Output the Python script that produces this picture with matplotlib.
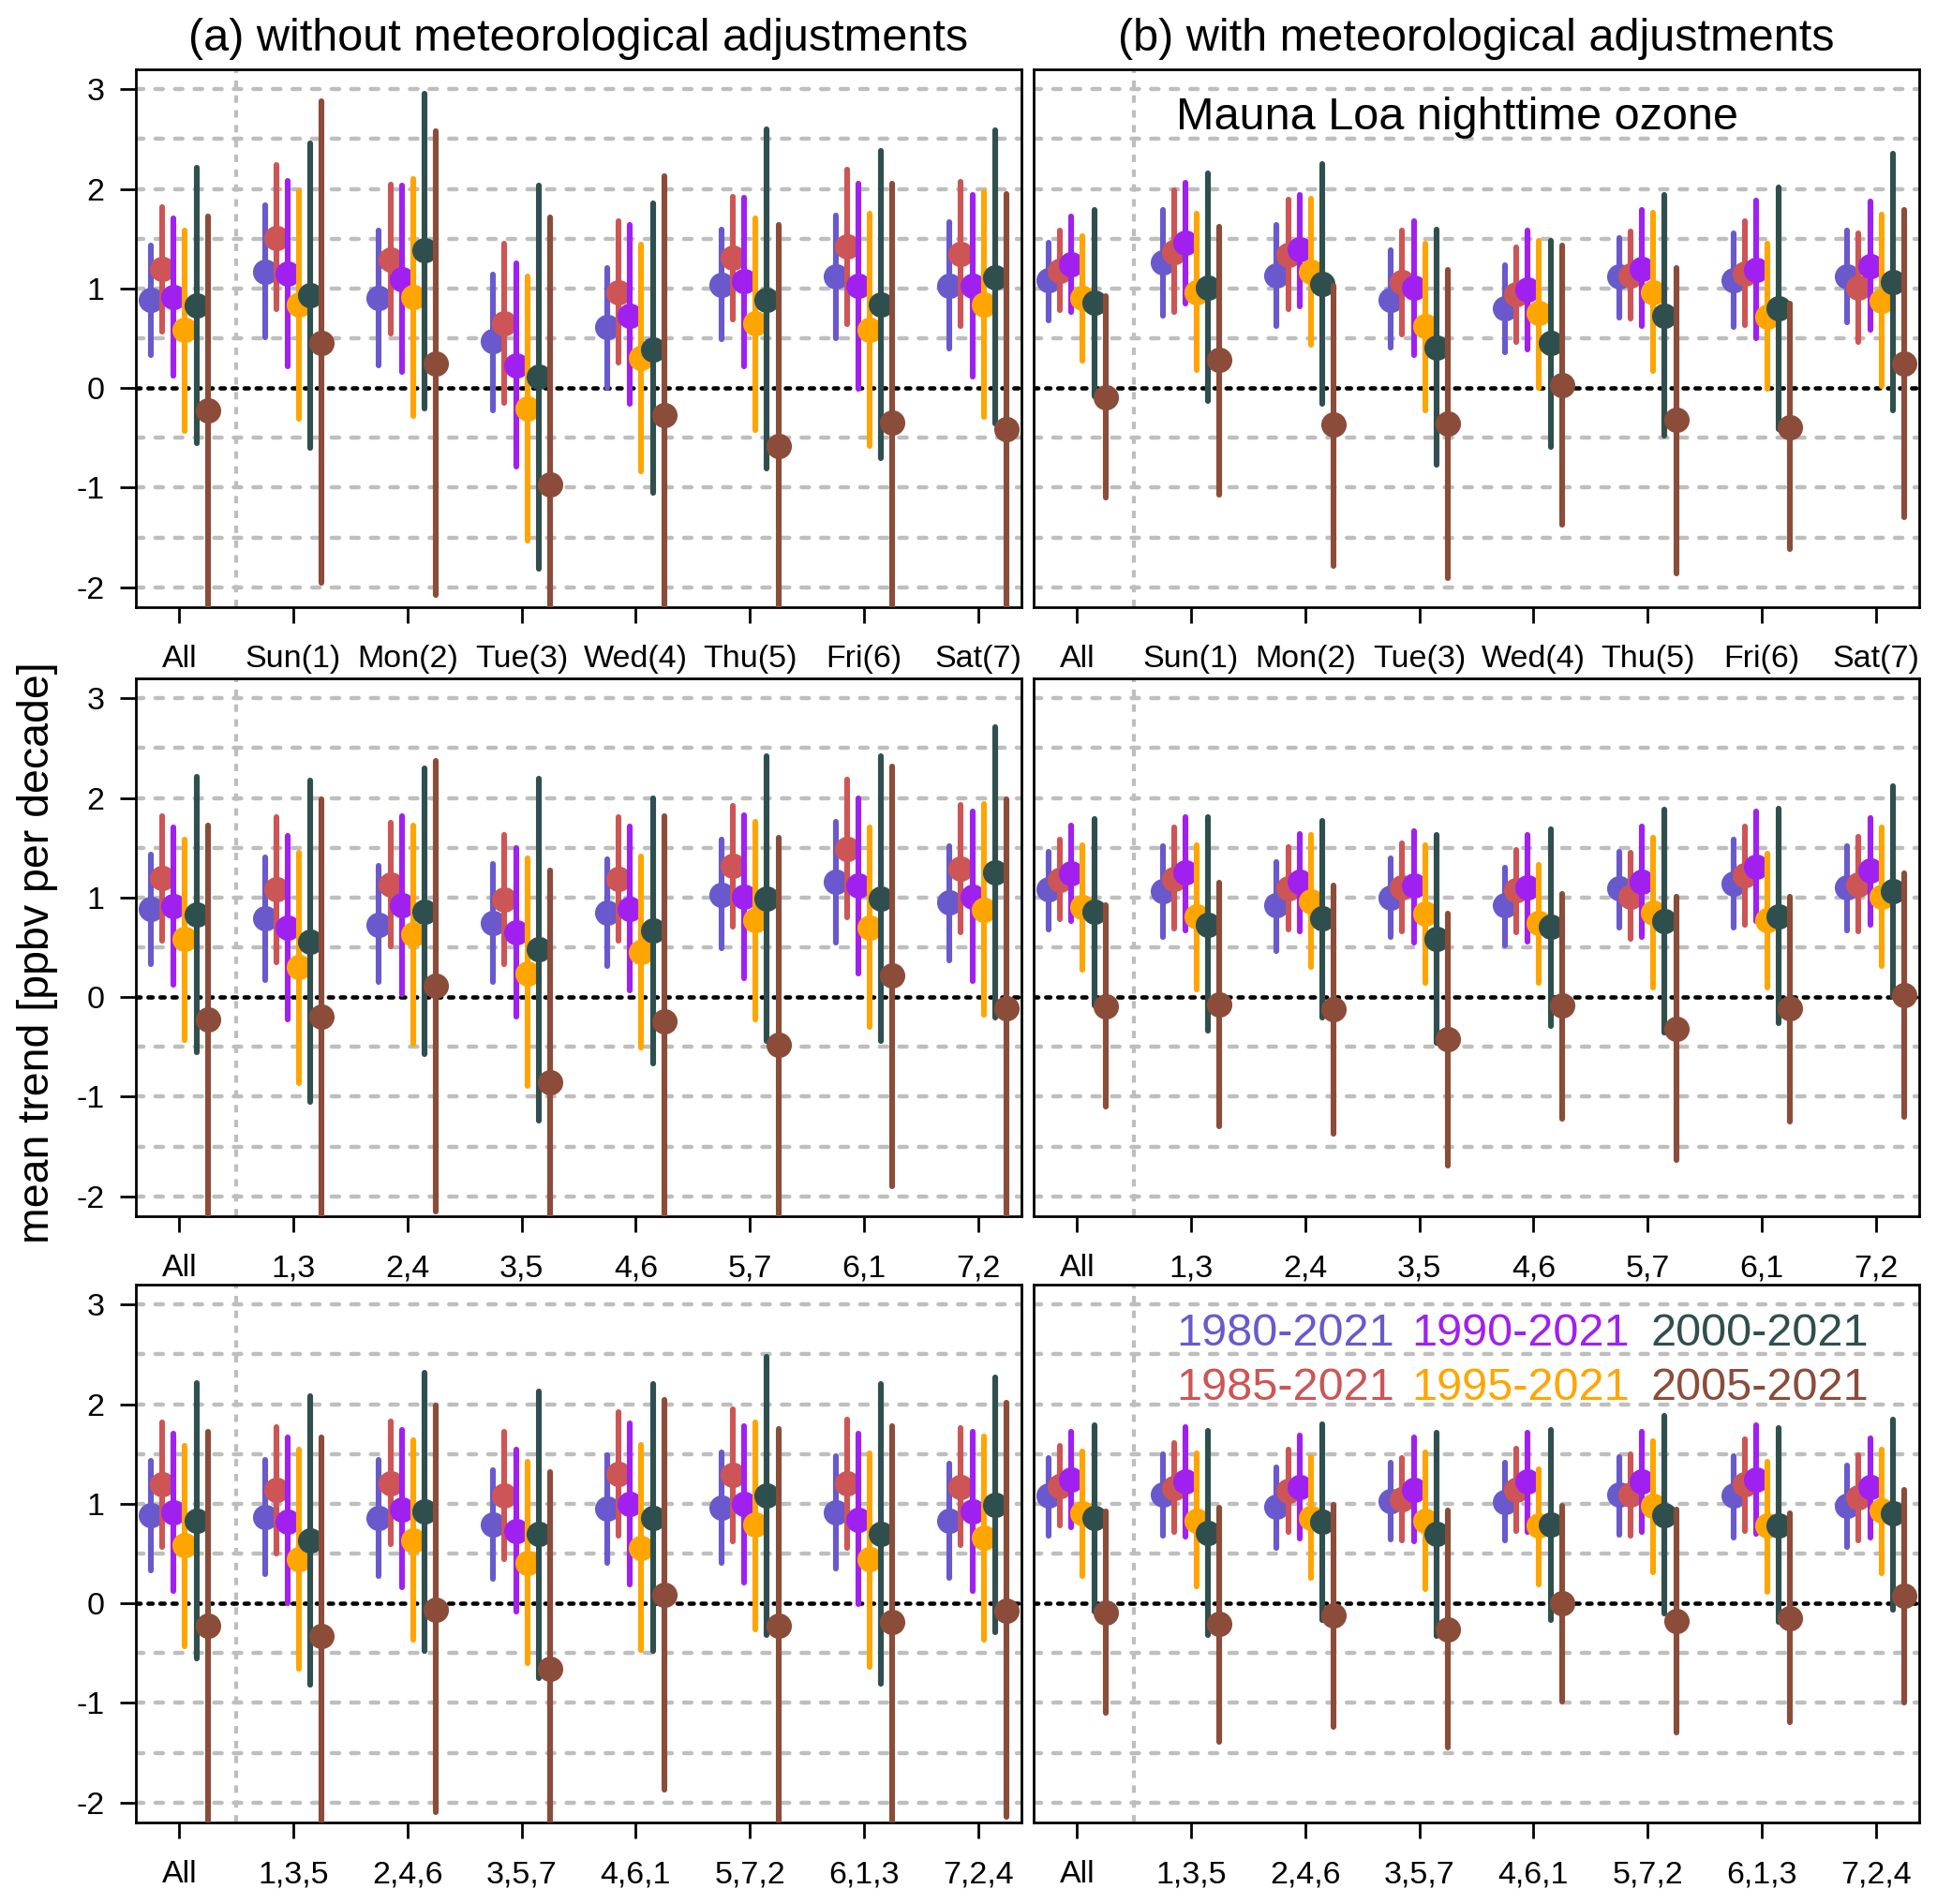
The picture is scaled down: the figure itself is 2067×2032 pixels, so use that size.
"""
Mauna Loa nighttime ozone -- mean trend by day-of-week subsets,
without (a) and with (b) meteorological adjustments.
"""

import numpy as np
import matplotlib
matplotlib.use("Agg")
import matplotlib.pyplot as plt

plt.rcParams["font.family"] = ["Liberation Sans", "DejaVu Sans"]

# ── Data ─────────────────────────────────────────────────────────────────────
PERIODS = ["1980-2021", "1985-2021", "1990-2021", "1995-2021", "2000-2021", "2005-2021"]
COLORS  = ["#6959CD", "#CD5555", "#A020F0", "#FFA500", "#2F4F4F", "#8B4C39"]

DAY_LABELS    = ["All", "Sun(1)", "Mon(2)", "Tue(3)", "Wed(4)", "Thu(5)", "Fri(6)", "Sat(7)"]
PAIR_LABELS   = ["All", "1,3", "2,4", "3,5", "4,6", "5,7", "6,1", "7,2"]
TRIPLE_LABELS = ["All", "1,3,5", "2,4,6", "3,5,7", "4,6,1", "5,7,2", "6,1,3", "7,2,4"]

# "All" group, one value per period (shared by every row of a column)
ALL_A_MEAN = [0.89, 1.20, 0.91, 0.58, 0.83, -0.22]
ALL_A_LO   = [0.33, 0.57, 0.12, -0.43, -0.55, -2.40]
ALL_A_HI   = [1.43, 1.82, 1.70, 1.58, 2.21, 1.72]

ALL_B_MEAN = [1.08, 1.18, 1.24, 0.90, 0.86, -0.09]
ALL_B_LO   = [0.68, 0.78, 0.76, 0.27, -0.08, -1.10]
ALL_B_HI   = [1.46, 1.58, 1.72, 1.53, 1.79, 0.92]

# (a) single days -- rows: periods, cols: Sun..Sat
A_DAY_MEAN = [[1.17, 0.90, 0.47, 0.61, 1.04, 1.12, 1.03],
              [1.51, 1.29, 0.65, 0.96, 1.31, 1.42, 1.35],
              [1.15, 1.09, 0.23, 0.73, 1.07, 1.03, 1.03],
              [0.84, 0.91, -0.21, 0.30, 0.65, 0.58, 0.84],
              [0.93, 1.38, 0.11, 0.39, 0.89, 0.84, 1.11],
              [0.45, 0.25, -0.97, -0.27, -0.58, -0.35, -0.41]]
A_DAY_LO   = [[0.51, 0.23, -0.22, 0.00, 0.49, 0.50, 0.40],
              [0.79, 0.55, -0.15, 0.26, 0.69, 0.64, 0.62],
              [0.22, 0.16, -0.79, -0.16, 0.22, -0.01, 0.11],
              [-0.31, -0.28, -1.53, -0.84, -0.42, -0.58, -0.29],
              [-0.60, -0.21, -1.81, -1.05, -0.81, -0.70, -0.36],
              [-1.96, -2.08, -2.40, -2.40, -2.40, -2.40, -2.40]]
A_DAY_HI   = [[1.84, 1.58, 1.14, 1.21, 1.59, 1.73, 1.67],
              [2.24, 2.04, 1.45, 1.68, 1.92, 2.19, 2.07],
              [2.08, 2.03, 1.25, 1.64, 1.91, 2.05, 1.94],
              [1.98, 2.10, 1.12, 1.44, 1.70, 1.75, 1.97],
              [2.46, 2.96, 2.03, 1.85, 2.60, 2.38, 2.59],
              [2.88, 2.58, 1.71, 2.13, 1.64, 2.05, 1.95]]

# (b) single days
B_DAY_MEAN = [[1.26, 1.13, 0.89, 0.80, 1.12, 1.08, 1.12],
              [1.37, 1.34, 1.06, 0.94, 1.13, 1.15, 1.01],
              [1.46, 1.39, 1.01, 0.99, 1.20, 1.19, 1.22],
              [0.96, 1.17, 0.62, 0.75, 0.96, 0.72, 0.88],
              [1.01, 1.05, 0.41, 0.45, 0.73, 0.80, 1.06],
              [0.28, -0.37, -0.36, 0.03, -0.32, -0.39, 0.25]]
B_DAY_LO   = [[0.73, 0.62, 0.41, 0.36, 0.71, 0.61, 0.66],
              [0.76, 0.79, 0.54, 0.46, 0.70, 0.63, 0.46],
              [0.85, 0.82, 0.33, 0.39, 0.62, 0.50, 0.58],
              [0.18, 0.43, -0.22, 0.00, 0.17, -0.01, 0.02],
              [-0.13, -0.16, -0.77, -0.59, -0.48, -0.41, -0.22],
              [-1.07, -1.79, -1.91, -1.37, -1.86, -1.62, -1.30]]
B_DAY_HI   = [[1.79, 1.64, 1.38, 1.23, 1.51, 1.55, 1.58],
              [1.99, 1.89, 1.58, 1.41, 1.57, 1.68, 1.55],
              [2.06, 1.94, 1.68, 1.58, 1.79, 1.88, 1.87],
              [1.75, 1.90, 1.45, 1.48, 1.76, 1.45, 1.74],
              [2.16, 2.25, 1.59, 1.48, 1.94, 2.01, 2.35],
              [1.62, 1.03, 1.19, 1.43, 1.21, 0.85, 1.79]]

# (a) day pairs
A_PAIR_MEAN = [[0.79, 0.73, 0.74, 0.85, 1.03, 1.16, 0.95],
               [1.08, 1.13, 0.98, 1.19, 1.32, 1.49, 1.29],
               [0.70, 0.92, 0.65, 0.89, 1.01, 1.12, 1.01],
               [0.30, 0.63, 0.24, 0.45, 0.77, 0.70, 0.88],
               [0.56, 0.86, 0.48, 0.67, 0.99, 0.99, 1.25],
               [-0.20, 0.11, -0.85, -0.24, -0.48, 0.22, -0.11]]
A_PAIR_LO   = [[0.17, 0.15, 0.15, 0.31, 0.49, 0.55, 0.37],
               [0.35, 0.51, 0.33, 0.57, 0.71, 0.80, 0.65],
               [-0.22, 0.03, -0.20, 0.07, 0.19, 0.24, 0.16],
               [-0.86, -0.47, -0.89, -0.51, -0.22, -0.30, -0.18],
               [-1.05, -0.57, -1.24, -0.67, -0.44, -0.44, -0.21],
               [-2.40, -2.15, -2.40, -2.40, -2.40, -1.90, -2.40]]
A_PAIR_HI   = [[1.40, 1.32, 1.34, 1.38, 1.58, 1.76, 1.52],
               [1.81, 1.75, 1.63, 1.81, 1.92, 2.18, 1.93],
               [1.62, 1.82, 1.50, 1.71, 1.83, 2.00, 1.86],
               [1.45, 1.72, 1.39, 1.41, 1.76, 1.70, 1.94],
               [2.17, 2.30, 2.19, 2.00, 2.42, 2.42, 2.71],
               [1.99, 2.37, 1.27, 1.82, 1.60, 2.32, 1.99]]

# (b) day pairs
B_PAIR_MEAN = [[1.06, 0.92, 1.00, 0.92, 1.09, 1.14, 1.10],
               [1.19, 1.09, 1.10, 1.07, 1.01, 1.22, 1.13],
               [1.25, 1.16, 1.12, 1.10, 1.16, 1.31, 1.27],
               [0.81, 0.96, 0.84, 0.74, 0.85, 0.77, 1.01],
               [0.73, 0.79, 0.58, 0.71, 0.76, 0.81, 1.06],
               [-0.07, -0.12, -0.42, -0.08, -0.32, -0.11, 0.02]]
B_PAIR_LO   = [[0.60, 0.46, 0.60, 0.52, 0.70, 0.70, 0.67],
               [0.69, 0.68, 0.66, 0.65, 0.58, 0.73, 0.66],
               [0.67, 0.66, 0.55, 0.56, 0.60, 0.76, 0.73],
               [0.08, 0.30, 0.14, 0.14, 0.10, 0.10, 0.31],
               [-0.34, -0.21, -0.46, -0.29, -0.36, -0.26, 0.00],
               [-1.30, -1.37, -1.69, -1.22, -1.64, -1.25, -1.20]]
B_PAIR_HI   = [[1.52, 1.36, 1.39, 1.30, 1.46, 1.58, 1.52],
               [1.70, 1.51, 1.54, 1.48, 1.45, 1.71, 1.61],
               [1.81, 1.64, 1.67, 1.63, 1.71, 1.86, 1.80],
               [1.53, 1.63, 1.53, 1.33, 1.60, 1.44, 1.70],
               [1.81, 1.77, 1.63, 1.69, 1.88, 1.89, 2.12],
               [1.15, 1.12, 0.84, 1.04, 1.01, 1.01, 1.24]]

# (a) day triples
A_TRI_MEAN = [[0.87, 0.86, 0.79, 0.95, 0.96, 0.91, 0.83],
              [1.14, 1.21, 1.08, 1.30, 1.29, 1.21, 1.17],
              [0.82, 0.94, 0.73, 1.00, 1.00, 0.84, 0.92],
              [0.44, 0.63, 0.41, 0.56, 0.79, 0.44, 0.66],
              [0.63, 0.92, 0.70, 0.86, 1.08, 0.70, 0.99],
              [-0.33, -0.06, -0.66, 0.09, -0.22, -0.19, -0.07]]
A_TRI_LO   = [[0.29, 0.27, 0.25, 0.41, 0.41, 0.35, 0.26],
              [0.50, 0.59, 0.44, 0.68, 0.62, 0.56, 0.58],
              [0.00, 0.16, -0.08, 0.19, 0.21, -0.01, 0.12],
              [-0.66, -0.37, -0.60, -0.47, -0.26, -0.64, -0.37],
              [-0.82, -0.48, -0.75, -0.48, -0.32, -0.81, -0.29],
              [-2.40, -2.10, -2.40, -1.87, -2.40, -2.40, -2.14]]
A_TRI_HI   = [[1.44, 1.44, 1.34, 1.49, 1.52, 1.48, 1.40],
              [1.77, 1.83, 1.72, 1.92, 1.95, 1.85, 1.76],
              [1.67, 1.74, 1.54, 1.81, 1.78, 1.70, 1.72],
              [1.54, 1.64, 1.42, 1.59, 1.82, 1.51, 1.68],
              [2.08, 2.32, 2.13, 2.20, 2.48, 2.20, 2.27],
              [1.67, 1.99, 1.32, 2.04, 1.75, 1.78, 2.01]]

# (b) day triples
B_TRI_MEAN = [[1.09, 0.97, 1.03, 1.02, 1.09, 1.08, 0.98],
              [1.16, 1.13, 1.05, 1.14, 1.09, 1.20, 1.06],
              [1.22, 1.17, 1.14, 1.22, 1.22, 1.24, 1.17],
              [0.83, 0.86, 0.83, 0.78, 0.98, 0.78, 0.93],
              [0.71, 0.82, 0.70, 0.79, 0.89, 0.78, 0.90],
              [-0.21, -0.12, -0.26, 0.00, -0.18, -0.15, 0.08]]
B_TRI_LO   = [[0.68, 0.56, 0.64, 0.63, 0.69, 0.66, 0.57],
              [0.72, 0.72, 0.63, 0.73, 0.68, 0.73, 0.63],
              [0.67, 0.65, 0.62, 0.72, 0.72, 0.70, 0.66],
              [0.17, 0.26, 0.14, 0.19, 0.31, 0.11, 0.30],
              [-0.32, -0.17, -0.33, -0.17, -0.10, -0.19, -0.06],
              [-1.39, -1.24, -1.45, -0.99, -1.30, -1.19, -1.00]]
B_TRI_HI   = [[1.50, 1.37, 1.41, 1.41, 1.47, 1.48, 1.38],
              [1.61, 1.54, 1.46, 1.55, 1.50, 1.65, 1.49],
              [1.77, 1.69, 1.67, 1.71, 1.72, 1.79, 1.66],
              [1.51, 1.47, 1.52, 1.35, 1.63, 1.42, 1.54],
              [1.73, 1.80, 1.71, 1.74, 1.88, 1.76, 1.85],
              [0.96, 0.99, 0.93, 0.98, 0.94, 0.90, 1.14]]

# ── Layout / style ───────────────────────────────────────────────────────────
W, H = 2067, 2032
COL_X  = [145 / W, 1103 / W]
COL_W  = 945 / W
ROW_Y  = [1 - 648 / H, 1 - 1298 / H, 1 - 1945 / H]
ROW_H  = 574 / H

XLIM = (0.62, 8.38)
YLIM = (-2.2, 3.2)
OFFSETS = np.array([-0.25, -0.15, -0.05, 0.05, 0.15, 0.25])
FS_BIG, FS_TICK = 35, 24.5

GRID_C = "#BEBEBE"


def draw_panel(ax, all_mean, all_lo, all_hi, mean, lo, hi, labels, show_y):
    xg = np.arange(1, 9)
    for yy in np.arange(-2, 3.01, 0.5):
        if abs(yy) < 1e-9:
            continue
        ax.axhline(yy, color=GRID_C, lw=3.2, ls=(0, (1.8, 2.9)),
                   dash_capstyle="round", zorder=1)
    ax.axvline(1.5, color=GRID_C, lw=3.0, ls=(0, (1.9, 1.9)), zorder=1)
    ax.axhline(0, color="black", lw=3.3, ls=(0, (1.0, 1.8)),
               dash_capstyle="round", zorder=2)

    for k in range(len(PERIODS)):
        m = np.array([all_mean[k]] + list(mean[k]))
        l = np.array([all_lo[k]] + list(lo[k]))
        h = np.array([all_hi[k]] + list(hi[k]))
        eb = ax.errorbar(xg + OFFSETS[k], m, yerr=[m - l, h - m], fmt="o",
                         color=COLORS[k], ms=19.5, mew=0, elinewidth=4.4,
                         capsize=0, zorder=3 + k)
        eb.lines[2][0].set_capstyle("round")

    ax.set_xlim(*XLIM)
    ax.set_ylim(*YLIM)
    ax.set_xticks(xg)
    ax.set_xticklabels(labels)
    ax.set_yticks(np.arange(-2, 4))
    ax.set_yticklabels([str(v) for v in range(-2, 4)])
    ax.tick_params(axis="x", direction="out", length=12, width=2,
                   labelsize=FS_TICK, pad=17)
    if show_y:
        ax.tick_params(axis="y", direction="out", length=12, width=2,
                       labelsize=FS_TICK, pad=12)
    else:
        ax.tick_params(axis="y", length=0, labelleft=False)
    for sp in ax.spines.values():
        sp.set_linewidth(2.0)


fig = plt.figure(figsize=(W / 100, H / 100), dpi=100)

panels = [
    (0, 0, ALL_A_MEAN, ALL_A_LO, ALL_A_HI, A_DAY_MEAN, A_DAY_LO, A_DAY_HI, DAY_LABELS),
    (0, 1, ALL_B_MEAN, ALL_B_LO, ALL_B_HI, B_DAY_MEAN, B_DAY_LO, B_DAY_HI, DAY_LABELS),
    (1, 0, ALL_A_MEAN, ALL_A_LO, ALL_A_HI, A_PAIR_MEAN, A_PAIR_LO, A_PAIR_HI, PAIR_LABELS),
    (1, 1, ALL_B_MEAN, ALL_B_LO, ALL_B_HI, B_PAIR_MEAN, B_PAIR_LO, B_PAIR_HI, PAIR_LABELS),
    (2, 0, ALL_A_MEAN, ALL_A_LO, ALL_A_HI, A_TRI_MEAN, A_TRI_LO, A_TRI_HI, TRIPLE_LABELS),
    (2, 1, ALL_B_MEAN, ALL_B_LO, ALL_B_HI, B_TRI_MEAN, B_TRI_LO, B_TRI_HI, TRIPLE_LABELS),
]

axes = {}
for r, c, am, al, ah, m, l, h, labs in panels:
    ax = fig.add_axes([COL_X[c], ROW_Y[r], COL_W, ROW_H])
    draw_panel(ax, am, al, ah, m, l, h, labs, show_y=(c == 0))
    axes[(r, c)] = ax

# titles, axis label, annotations
fig.text(COL_X[0] + COL_W / 2, 1 - 42 / H, "(a) without meteorological adjustments",
         ha="center", va="center", fontsize=FS_BIG)
fig.text(COL_X[1] + COL_W / 2, 1 - 42 / H, "(b) with meteorological adjustments",
         ha="center", va="center", fontsize=FS_BIG)
fig.text(40 / W, 0.4995, "mean trend [ppbv per decade]", rotation=90,
         ha="center", va="center", fontsize=33.5)

axes[(0, 1)].text(1.87, 2.72, "Mauna Loa nighttime ozone", ha="left",
                  va="center", fontsize=FS_BIG, zorder=20)

leg_ax = axes[(2, 1)]
leg_x = [1.87, 3.93, 6.03]
leg_y = [2.71, 2.16]
for k, lab in enumerate(PERIODS):
    col, row = k // 2, k % 2
    leg_ax.text(leg_x[col], leg_y[row], lab, color=COLORS[k], ha="left",
                va="center", fontsize=FS_BIG, zorder=20)

fig.savefig("out.png", dpi=100)
plt.close(fig)
